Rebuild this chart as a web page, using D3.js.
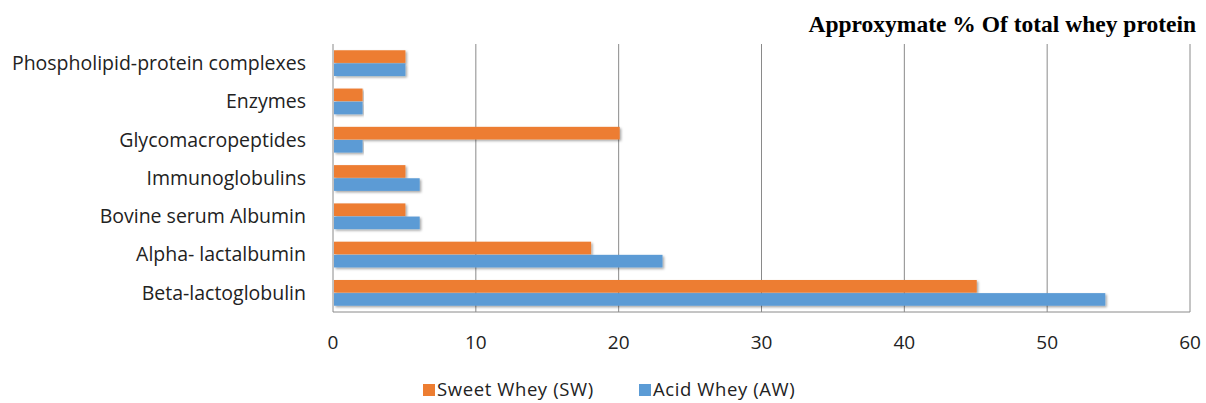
<!DOCTYPE html>
<html>
<head>
    <title>Whey protein composition</title>
    <script src="https://cdnjs.cloudflare.com/ajax/libs/d3/7.8.5/d3.min.js"></script>
    <style>
        html, body {
            margin: 0;
            padding: 0;
            background: #ffffff;
        }
        #chart {
            width: 1206px;
            height: 403px;
        }
        .cat-label, .tick-label, .legend-label {
            font-family: 'Open Sans', 'Noto Sans', sans-serif;
            fill: #222;
        }
        .title {
            font-family: 'Liberation Serif', 'DejaVu Serif', serif;
            font-weight: bold;
            fill: #000;
        }
    </style>
</head>
<body>
    <div id="chart"></div>
    <script>
        // categories top to bottom, as they appear
        const categories = [
            'Phospholipid-protein complexes',
            'Enzymes',
            'Glycomacropeptides',
            'Immunoglobulins',
            'Bovine serum Albumin',
            'Alpha- lactalbumin',
            'Beta-lactoglobulin'
        ];
        const sweetWhey = [5, 2, 20, 5, 5, 18, 45];
        const acidWhey = [5, 2, 2, 6, 6, 23, 54];
        const seriesNames = ['Sweet Whey (SW)', 'Acid Whey (AW)'];
        const seriesColors = ['#ED7D31', '#5B9BD5'];
        const xTicks = [0, 10, 20, 30, 40, 50, 60];

        const width = 1206, height = 403;
        const margin = { top: 44, right: 16, bottom: 91, left: 333 };
        const innerW = 1190 - margin.left;
        const innerH = height - margin.top - margin.bottom;

        const svg = d3.select('#chart').append('svg')
            .attr('width', width)
            .attr('height', height);

        const defs = svg.append('defs');
        const shadow = defs.append('filter').attr('id', 'shadow')
            .attr('x', '-5%').attr('y', '-30%').attr('width', '110%').attr('height', '180%');
        shadow.append('feDropShadow')
            .attr('dx', 1.5).attr('dy', 1.5).attr('stdDeviation', 1)
            .attr('flood-color', '#000').attr('flood-opacity', 0.35);

        const g = svg.append('g').attr('transform', `translate(${margin.left},${margin.top})`);

        const x = d3.scaleLinear().domain([0, 60]).range([0, innerW]);
        const y = d3.scaleBand().domain(categories).range([0, innerH]).paddingInner(0.3).paddingOuter(0.15);
        const ySub = d3.scaleBand().domain([0, 1]).range([0, y.bandwidth()]).padding(0.04);

        // gridlines
        g.append('g').selectAll('line')
            .data(xTicks.slice(1))
            .enter().append('line')
            .attr('x1', d => x(d)).attr('x2', d => x(d))
            .attr('y1', 0).attr('y2', innerH)
            .attr('stroke', '#8a8a8a').attr('stroke-width', 1);

        // axis lines
        g.append('line').attr('x1', 0).attr('x2', 0).attr('y1', 0).attr('y2', innerH)
            .attr('stroke', '#8a8a8a');
        g.append('line').attr('x1', 0).attr('x2', innerW).attr('y1', innerH).attr('y2', innerH)
            .attr('stroke', '#8a8a8a');

        // bars
        const rows = categories.map((c, i) => ({ cat: c, vals: [sweetWhey[i], acidWhey[i]] }));
        const grp = g.append('g').selectAll('g')
            .data(rows)
            .enter().append('g')
            .attr('transform', d => `translate(0,${y(d.cat)})`);
        grp.selectAll('rect')
            .data(d => d.vals.map((v, k) => ({ v, k })))
            .enter().append('rect')
            .attr('x', x(0) + 1)
            .attr('y', d => ySub(d.k))
            .attr('height', ySub.bandwidth())
            .attr('width', d => x(d.v) - x(0))
            .attr('fill', d => seriesColors[d.k])
            .attr('filter', 'url(#shadow)');

        // category labels
        g.append('g').selectAll('text')
            .data(categories)
            .enter().append('text')
            .attr('class', 'cat-label')
            .attr('x', -27)
            .attr('y', d => y(d) + y.bandwidth() / 2)
            .attr('dy', '0.35em')
            .attr('text-anchor', 'end')
            .style('font-size', '19.5px')
            .text(d => d);

        // x tick labels
        g.append('g').selectAll('text')
            .data(xTicks)
            .enter().append('text')
            .attr('class', 'tick-label')
            .attr('x', d => x(d))
            .attr('y', innerH + 37)
            .attr('text-anchor', 'middle')
            .style('font-size', '19px')
            .text(d => d);

        // title
        svg.append('text')
            .attr('class', 'title')
            .attr('x', 1196)
            .attr('y', 32)
            .attr('text-anchor', 'end')
            .style('font-size', '23.5px')
            .text('Approxymate % Of total whey protein');

        // legend
        const legendX = [423, 639];
        const legend = svg.append('g').selectAll('g')
            .data(seriesNames)
            .enter().append('g')
            .attr('transform', (d, i) => `translate(${legendX[i]},384)`);
        legend.append('rect')
            .attr('width', 12).attr('height', 12)
            .attr('fill', (d, i) => seriesColors[i]);
        legend.append('text')
            .attr('class', 'legend-label')
            .attr('x', 14)
            .attr('y', 6)
            .attr('dy', '0.35em')
            .style('font-size', '18.5px')
            .style('letter-spacing', '0.6px')
            .text(d => d);
    </script>
</body>
</html>
